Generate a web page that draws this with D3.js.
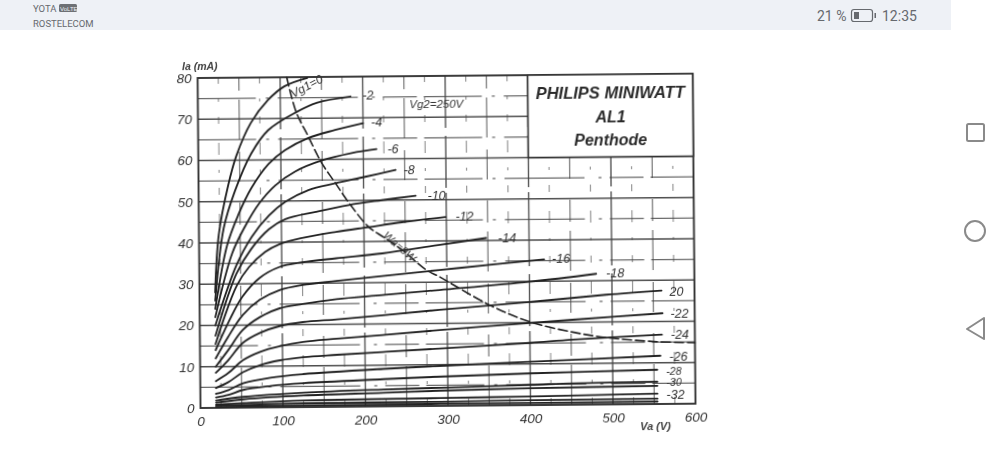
<!DOCTYPE html>
<html><head><meta charset="utf-8">
<script src="https://cdn.jsdelivr.net/npm/d3@7/dist/d3.min.js"></script>
<style>html,body{margin:0;padding:0;background:#fff;overflow:hidden}svg{display:block}text{font-family:"Liberation Sans",sans-serif}</style>
</head><body><svg id="c" width="1000" height="462"></svg>
<script>
const xTicks=[0,100,200,300,400,500,600];
const yTicks=[0,10,20,30,40,50,60,70,80];
const gridY=d3.range(5,80,5);
const gridX=d3.range(25,600,25);
const gridLabels=["Vg1=0","Vg2=250V","Wa=9W"];
const curveNames=["0","-2","-4","-6","-8","-10","-12","-14","-16","-18","20","-22","-24","-26","-28","-30","-32"];
const v0=[[19,28],[24,42],[36,54],[46,61],[64,69],[85,74.5],[105,77.8],[133,79.8]];
const v2=[[19,26],[30,43.5],[44,52.5],[64,61.5],[85,67.2],[119,71.5],[145,73.8],[185,75.2]];
const v4=[[19,24],[34,39.4],[48,46.8],[64,53.2],[85,59],[105,62.3],[133,65.2],[166,67.1],[200,68.7]];
const v6=[[19,22],[40,37.4],[57,44.3],[73,49.4],[93,53.8],[117,57.1],[149,59.7],[186,61.5],[216,62.4]];
const v8=[[19,20],[45,34.5],[64,41.4],[85,46.5],[105,49.8],[133,52.6],[166,54.2],[202,55.7],[239,57.3]];
const v10=[[19,17.5],[45,32.5],[63,38.4],[85,43.2],[105,45.6],[142,47.3],[182,48.9],[222,50],[263,51]];
const v12=[[19,15.5],[45,29.5],[60,34],[80,37.7],[97,39.5],[125,41],[166,42.4],[206,43.5],[246,44.6],[299,45.8]];
const v14=[[19,14],[34,20.4],[52,26.9],[73,31.4],[97,34],[125,35.1],[166,36],[222,37.1],[290,39],[348,40.6]];
const v16=[[19,12],[34,17.1],[52,22.4],[73,26.1],[97,28.4],[125,29.6],[166,30.5],[222,31.6],[315,33.4],[418,35.3]];
const v18=[[19,10],[34,13.9],[52,18.8],[73,21.9],[97,24],[125,25],[166,26.1],[222,27],[291,28.1],[400,29.9],[481,31.7]];
const v20=[[19,8.5],[34,11.5],[52,15.7],[73,18.1],[97,19.7],[125,20.6],[166,21.2],[222,22.1],[291,23.3],[400,25],[493,26.6],[560,27.5]];
const v22=[[19,6.5],[34,8.4],[52,11.5],[73,13.5],[97,14.8],[125,15.8],[166,16.5],[222,17.3],[291,18.4],[400,19.9],[452,20.6],[561,22]];
const v24=[[19,4.8],[34,6.2],[52,8.6],[73,10.3],[97,11.4],[125,12.1],[166,12.6],[222,13.2],[291,13.9],[400,15.1],[452,15.8],[560,16.8]];
const v26=[[19,3.4],[34,4.3],[52,5.9],[85,7.2],[125,8],[222,9.1],[291,9.7],[400,10.5],[558,11.7]];
const v28=[[19,2.5],[34,3.1],[52,4.3],[85,5.2],[125,5.8],[222,6.6],[291,7.1],[400,7.7],[554,8.3]];
const v30=[[19,1.8],[52,2.6],[125,3.5],[222,4.1],[291,4.4],[400,4.9],[452,5.2],[554,5.4]];
const v31=[[19,1.3],[52,2],[125,2.8],[222,3.3],[291,3.7],[400,4.1],[554,4.4]];
const v32=[[19,.8],[52,1.1],[125,1.6],[291,1.9],[400,2.1],[554,2.5]];
const v34=[[19,.5],[125,.9],[291,1],[400,1.2],[554,1.3]];
const v36=[[19,.2],[125,.4],[291,.5],[400,.5],[554,.6]];
const loadLine=[[108,80],[119,71.6],[133,65.8],[149,59.3],[166,54.2],[184,48.9],[206,43.5],[224,41],[246,37.9],[275,33],[291,31.3],[351,24.4],[400,20.2],[452,17.6],[493,16.2],[554,15.1],[600,14.8]];
const curves=[v0,v2,v4,v6,v8,v10,v12,v14,v16,v18,v20,v22,v24,v26,v28,v30,v32];
const extraCurves=[v31,v34,v36];
const labelOffsets=[null,[12,1],[8,1],[11,2],[8,2],[12,2],[10,2],[12,2],[8,2],[10,2],[8,3],[8,3],[9,2],[9,3],[9,3],[9,2],[9,3]];

const svg=d3.select("#c");
const defs=svg.append("defs");
defs.append("filter").attr("id","soft").attr("x","-5%").attr("y","-5%").attr("width","110%").attr("height","110%")
  .append("feGaussianBlur").attr("stdDeviation",0.55);

// phone status bar
svg.append("rect").attr("x",0).attr("y",0).attr("width",951).attr("height",30).attr("fill","#eef1f6");
const ui=svg.append("g").attr("fill","#66696e");
ui.append("text").attr("x",33).attr("y",12).attr("font-size",9.5).attr("style","font-family:Roboto").text("YOTA");
ui.append("rect").attr("x",59).attr("y",4).attr("width",18).attr("height",8).attr("rx",1.5).attr("fill","#6d7074");
ui.append("text").attr("x",60).attr("y",10.5).attr("font-size",6).attr("fill","#eef1f6").text("VoLTE");
ui.append("text").attr("x",33).attr("y",27).attr("font-size",9.5).attr("style","font-family:Roboto").text("ROSTELECOM");
ui.append("text").attr("x",817).attr("y",21).attr("font-size",14).attr("style","font-family:Roboto").text("21 %");
ui.append("text").attr("x",882).attr("y",21).attr("font-size",14).attr("style","font-family:Roboto").text("12:35");
ui.append("rect").attr("x",851.5).attr("y",9.5).attr("width",21).attr("height",12).attr("rx",2.5).attr("fill","none").attr("stroke","#66696e").attr("stroke-width",1.2);
ui.append("rect").attr("x",854).attr("y",12).attr("width",5).attr("height",7).attr("fill","#66696e");
ui.append("rect").attr("x",874.5).attr("y",13).attr("width",1.5).attr("height",5).attr("fill","#66696e");
const nav=svg.append("g").attr("fill","none").attr("stroke","#8a8a8a").attr("stroke-width",2);
nav.append("rect").attr("x",967).attr("y",124).attr("width",17).attr("height",17).attr("rx",1.5);
nav.append("circle").attr("cx",975).attr("cy",231).attr("r",10);
nav.append("path").attr("d","M984 318 L967 329 L984 339 Z").attr("stroke-linejoin","round");

// chart
const x=d3.scaleLinear().domain([0,600]).range([200.5,695.5]);
const y=d3.scaleLinear().domain([0,80]).range([408,78]);
const g=svg.append("g").attr("filter","url(#soft)").attr("transform","rotate(-0.5 200.5 408)");

// grid
const hg=g.append("g").attr("stroke","#444");
gridY.forEach(d=>{
  const major=d%10===0;
  const xEnd=d>60?x(400):x(600);
  hg.append("line").attr("x1",x(0)).attr("x2",xEnd).attr("y1",y(d)).attr("y2",y(d))
    .attr("stroke-width",major?1.4:1.1).attr("opacity",major?.95:.8)
    .attr("stroke-dasharray",major?null:"58 10 3 9 80 14 3 8 34 7");
});
const vg=g.append("g").attr("stroke","#444");
gridX.forEach(d=>{
  const major=d%100===0, mid=d%50===0;
  const yEnd=d>400?y(60):y(80);
  vg.append("line").attr("x1",x(d)).attr("x2",x(d)).attr("y1",y(0)).attr("y2",yEnd)
    .attr("stroke-width",major?1.4:1.1).attr("opacity",major?.9:mid?.8:.6)
    .attr("stroke-dasharray",major?"74 5 52 8":mid?"40 9 22 21 30 12":"7 15 3 15 12 19");
});

// frame and title box
g.append("rect").attr("x",x(0)).attr("y",y(80)).attr("width",x(600)-x(0)).attr("height",y(0)-y(80))
  .attr("fill","none").attr("stroke","#333").attr("stroke-width",1.9);
g.append("rect").attr("x",x(400)).attr("y",y(80)).attr("width",x(600)-x(400)).attr("height",y(60)-y(80))
  .attr("fill","#fff").attr("stroke","#333").attr("stroke-width",1.6);

// curves
const line=d3.line().x(d=>x(d[0])).y(d=>y(d[1])).curve(d3.curveCatmullRom.alpha(0.5));
const cg=g.append("g").attr("fill","none").attr("stroke","#222").attr("stroke-linecap","round");
curves.concat(extraCurves).forEach(c=>cg.append("path").attr("d",line(c)).attr("stroke-width",1.85));
cg.append("path").attr("d",line(loadLine)).attr("stroke-width",1.6).attr("stroke-dasharray","9 4");

const tx=g.append("g").attr("fill","#333").attr("font-style","italic");
curveNames.forEach((n,i)=>{
  const off=labelOffsets[i]; if(!off) return;
  const e=curves[i][curves[i].length-1];
  tx.append("text").attr("x",x(e[0])+off[0]).attr("y",y(e[1])+off[1]+2)
    .attr("font-size",(n==="-28"||n==="-30")?10.5:12.5).text(n);
});
tx.append("text").attr("transform","translate(296,99) rotate(-28)").attr("font-size",12).text(gridLabels[0]);
tx.append("text").attr("x",412).attr("y",110).attr("font-size",11.5).text(gridLabels[1]);
tx.append("text").attr("transform","translate(384,238) rotate(42)").attr("font-size",11).text(gridLabels[2]);

// title
const tt=g.append("g").attr("text-anchor","middle").attr("fill","#2c2c2c").attr("font-style","italic").attr("font-weight","bold");
tt.append("text").attr("x",613).attr("y",102).attr("font-size",16.5).text("PHILIPS MINIWATT");
tt.append("text").attr("x",613).attr("y",126).attr("font-size",16).text("AL1");
tt.append("text").attr("x",613).attr("y",149).attr("font-size",16).text("Penthode");

// axes
const ax=g.append("g").attr("transform",`translate(0,${y(0)})`).call(d3.axisBottom(x).tickValues(xTicks).tickSize(0).tickPadding(8));
ax.select(".domain").remove();
const ay=g.append("g").attr("transform",`translate(${x(0)},0)`).call(d3.axisLeft(y).tickValues(yTicks).tickSize(0).tickPadding(6));
ay.select(".domain").remove();
g.selectAll(".tick text").attr("fill","#333").attr("font-size",13.5).attr("font-style","italic").attr("font-family","Liberation Sans");
g.append("text").attr("x",185).attr("y",70).attr("font-size",10.5).attr("font-style","italic").attr("font-weight","bold").attr("fill","#444").text("Ia (mA)");
g.append("text").attr("x",640).attr("y",434).attr("font-size",11).attr("font-style","italic").attr("font-weight","bold").attr("fill","#444").text("Va (V)");
</script></body></html>
